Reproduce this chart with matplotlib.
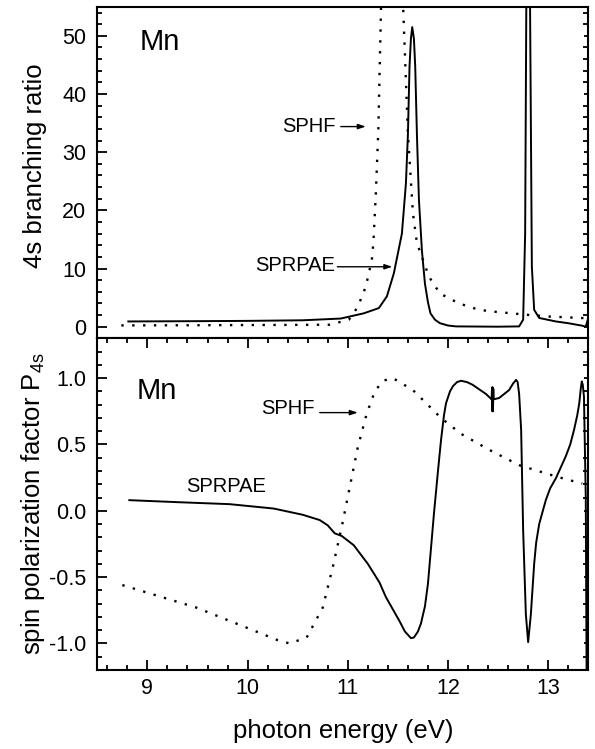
import matplotlib
matplotlib.use("Agg")
import matplotlib.pyplot as plt
from matplotlib.ticker import MultipleLocator, FormatStrFormatter

plt.rcParams['font.family'] = ['Liberation Sans', 'DejaVu Sans']
plt.rcParams['axes.unicode_minus'] = False
plt.rcParams['mathtext.default'] = 'regular'

# ---------------- data ----------------
# upper panel: 4s branching ratio
up_sprpae_x = [8.81, 9.5, 10.0, 10.55, 10.93, 11.16, 11.31, 11.39, 11.46, 11.54, 11.58,
               11.60, 11.616, 11.63, 11.643, 11.66, 11.673, 11.69, 11.71, 11.74, 11.77,
               11.80, 11.825, 11.87, 11.92, 12.0, 12.08, 12.5, 12.71, 12.75, 12.77, 12.783,
               12.80, 12.817, 12.837, 12.86, 12.91, 13.076, 13.2, 13.34, 13.375, 13.40]
up_sprpae_y = [0.9, 0.95, 1.0, 1.1, 1.4, 2.3, 3.2, 5.2, 9.2, 16.0, 24.6,
               33.0, 44.7, 49.5, 51.5, 49.5, 44.7, 33.0, 21.8, 13.0, 7.4,
               4.2, 2.3, 1.2, 0.6, 0.2, 0.05, 0.0, 0.05, 1.2, 16.0, 60.0,
               150.0, 60.0, 10.3, 2.9, 1.5, 0.9, 0.6, 0.17, 0.0, 1.5]

up_sphf_x = [8.74, 9.5, 10.3, 10.82, 11.01, 11.10, 11.18, 11.24, 11.256, 11.28, 11.305,
             11.33, 11.36, 11.44, 11.52, 11.55, 11.60, 11.65, 11.69, 11.81, 11.92,
             12.11, 12.31, 12.45, 12.78, 13.0, 13.34, 13.4]
up_sphf_y = [0.22, 0.25, 0.3, 0.34, 1.2, 3.4, 6.9, 11.5, 14.6, 22.9, 34.0,
             53.5, 80.0, 130.0, 80.0, 56.0, 33.2, 19.5, 14.4, 8.6, 5.7,
             4.0, 2.9, 2.6, 2.06, 1.75, 1.49, 1.45]

# lower panel: spin polarization factor
lo_sprpae_x = [8.82, 9.3, 9.82, 10.26, 10.55, 10.72, 10.80, 10.87, 10.94, 11.06, 11.20,
               11.316, 11.38, 11.515, 11.57, 11.63, 11.66, 11.70, 11.73, 11.77, 11.80,
               11.86, 11.90, 11.93, 11.96, 11.98, 12.02, 12.05, 12.09, 12.13, 12.19,
               12.245, 12.38, 12.435, 12.44, 12.443, 12.446, 12.449, 12.452, 12.455,
               12.51, 12.61, 12.65, 12.68, 12.695, 12.71, 12.73, 12.75, 12.777, 12.80,
               12.827, 12.86, 12.88, 12.91, 12.976, 13.02, 13.076, 13.175, 13.22, 13.258,
               13.29, 13.31, 13.325, 13.335, 13.345, 13.357, 13.375, 13.385]
lo_sprpae_y = [0.08, 0.065, 0.05, 0.017, -0.03, -0.07, -0.11, -0.17, -0.19, -0.26, -0.40,
               -0.54, -0.65, -0.83, -0.91, -0.96, -0.955, -0.91, -0.85, -0.72, -0.55,
               -0.02, 0.30, 0.53, 0.72, 0.81, 0.90, 0.94, 0.97, 0.98, 0.97,
               0.95, 0.88, 0.84, 0.93, 0.75, 0.93, 0.75, 0.92, 0.84,
               0.85, 0.91, 0.96, 0.987, 0.97, 0.88, 0.61, -0.147, -0.78, -0.99,
               -0.78, -0.40, -0.24, -0.10, 0.08, 0.17, 0.244, 0.41, 0.50, 0.61,
               0.72, 0.81, 0.92, 0.975, 0.95, 0.86, 0.1, -1.5]

lo_sphf_x = [8.75, 9.49, 10.02, 10.30, 10.42, 10.59, 10.75, 10.85, 10.94, 11.02, 11.10,
             11.19, 11.27, 11.35, 11.45, 11.65, 11.93, 12.13, 12.41, 12.71, 13.09, 13.34]
lo_sphf_y = [-0.56, -0.73, -0.89, -0.975, -1.0, -0.955, -0.73, -0.425, -0.12, 0.18, 0.48,
             0.735, 0.9, 0.98, 1.0, 0.91, 0.70, 0.58, 0.46, 0.344, 0.256, 0.205]

x_ticks = [9, 10, 11, 12, 13]

# ---------------- figure ----------------
fig = plt.figure(figsize=(5.95, 7.49), dpi=100)
ax1 = fig.add_axes([0.1635, 0.5483, 0.8252, 0.4427])
ax2 = fig.add_axes([0.1635, 0.1055, 0.8252, 0.4428])

solid_kw = dict(color='black', lw=1.4, solid_joinstyle='round')
dot_kw = dict(color='black', lw=1.7, linestyle=(0, (1, 3.6)))

ax1.plot(up_sprpae_x, up_sprpae_y, **solid_kw)
ax1.plot(up_sphf_x, up_sphf_y, **dot_kw)
ax2.plot(lo_sprpae_x, lo_sprpae_y, **solid_kw)
ax2.plot(lo_sphf_x, lo_sphf_y, **dot_kw)

for ax in (ax1, ax2):
    ax.set_xlim(8.5, 13.4)
    for s in ax.spines.values():
        s.set_linewidth(1.5)
    ax.xaxis.set_major_locator(MultipleLocator(1))
    ax.xaxis.set_minor_locator(MultipleLocator(0.2))
    ax.tick_params(which='major', direction='in', length=7.5, width=1.3,
                   labelsize=15.5)
    ax.tick_params(which='minor', direction='in', length=3.5, width=1.3)
    ax.tick_params(axis='y', which='both', right=True)
    ax.tick_params(axis='y', which='major', pad=8)
    ax.tick_params(axis='x', which='major', pad=6)

# right-side ticks are short
for ax in (ax1, ax2):
    for t in ax.yaxis.get_major_ticks():
        t.tick2line.set_markersize(3)
    for t in ax.yaxis.get_minor_ticks():
        t.tick2line.set_markersize(2)

ax1.set_ylim(-2, 55)
ax1.yaxis.set_major_locator(MultipleLocator(10))
ax1.yaxis.set_minor_locator(MultipleLocator(2))
ax1.yaxis.set_major_formatter(FormatStrFormatter('%d'))
ax1.tick_params(axis='x', which='both', bottom=False, labelbottom=False)

ax2.set_ylim(-1.2, 1.3)
ax2.yaxis.set_major_locator(MultipleLocator(0.5))
ax2.yaxis.set_minor_locator(MultipleLocator(0.1))
ax2.yaxis.set_major_formatter(FormatStrFormatter('%.1f'))
ax2.tick_params(axis='x', which='both', top=True)
ax2.set_xticks(x_ticks)
ax2.set_xticklabels([str(v) for v in x_ticks])

ax1.set_ylabel('4s branching ratio', fontsize=18.5)
ax2.set_ylabel('spin polarization factor P$_{4s}$', fontsize=18.5)
ax1.yaxis.set_label_coords(-0.102, 0.52)
ax2.yaxis.set_label_coords(-0.102, 0.5)
ax2.set_xlabel('photon energy (eV)', fontsize=18.5, labelpad=14)

# annotations
ax1.text(8.92, 48.9, 'Mn', fontsize=21, ha='left', va='center')
ax2.text(8.89, 0.9, 'Mn', fontsize=21, ha='left', va='center')

arrow_kw = dict(arrowstyle='-|>,head_length=0.45,head_width=0.15', color='black', lw=1.0,
                shrinkA=0, shrinkB=0)
ax1.text(10.88, 34.4, 'SPHF', fontsize=14.5, ha='right', va='center')
ax1.annotate('', xy=(11.18, 34.4), xytext=(10.93, 34.4), arrowprops=arrow_kw)
ax1.text(10.877, 10.5, 'SPRPAE', fontsize=14.5, ha='right', va='center')
ax1.annotate('', xy=(11.445, 10.3), xytext=(10.896, 10.3), arrowprops=arrow_kw)

ax2.text(10.67, 0.77, 'SPHF', fontsize=14.5, ha='right', va='center')
ax2.annotate('', xy=(11.10, 0.74), xytext=(10.72, 0.74), arrowprops=arrow_kw)
ax2.text(9.79, 0.185, 'SPRPAE', fontsize=14.5, ha='center', va='center')

fig.savefig('out.png', dpi=100)
